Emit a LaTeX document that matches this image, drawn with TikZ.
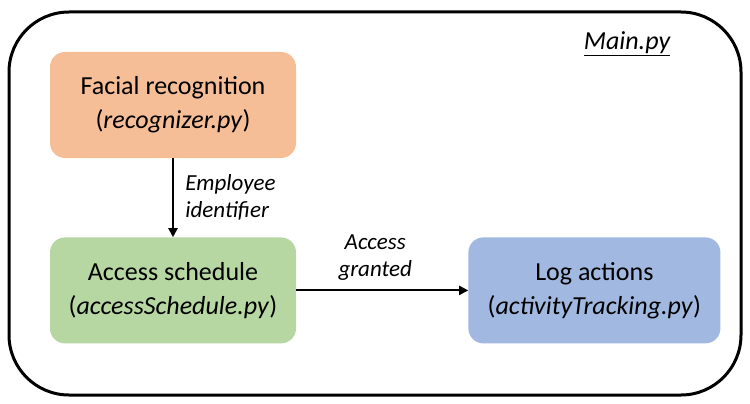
\documentclass[tikz,border=0pt]{standalone}
\usepackage{fontspec}
\setmainfont{Carlito}
\usetikzlibrary{positioning, arrows.meta}

\definecolor{faceorange}{HTML}{F5BE96}
\definecolor{schedgreen}{HTML}{B6D7A2}
\definecolor{logblue}{HTML}{A1B8E1}

\begin{document}
\begin{tikzpicture}[x=1pt, y=-1pt]
	% ----- Styles -----
	\tikzset{
		module/.style={
			rectangle, rounded corners=15pt, draw=none,
			minimum width=246pt, minimum height=106pt,
			align=center, font=\fontsize{26}{34}\selectfont
		},
		face/.style={module, fill=faceorange},
		sched/.style={module, fill=schedgreen},
		logger/.style={module, fill=logblue, minimum width=252pt},
		flowlabel/.style={align=left, font=\fontsize{23}{27}\selectfont\itshape},
		arrow/.style={line width=2pt, -{Triangle[length=9pt, width=9pt]}}
	}
	\useasboundingbox (0,0) rectangle (750,404);
	% ----- Frame -----
	\draw[line width=3pt, rounded corners=60pt] (9,12) rectangle (741,395);
	\node (main) [font=\fontsize{26}{30}\selectfont\itshape, anchor=base] at (627,50) {\underline{Main.py}};
	% ----- Nodes -----
	\node (recog) [face] at (173,105) {Facial recognition\\(\textit{recognizer.py})};
	\node (access) [sched, below=79pt of recog] {Access schedule\\(\textit{accessSchedule.py})};
	\node (log) [logger, right=172pt of access] {Log actions\\(\textit{activityTracking.py})};
	% ----- Arrows -----
	\draw[arrow] (recog) -- node[flowlabel, right=8pt] {Employee\\identifier} (access);
	\draw[arrow] (access) -- node[flowlabel, above=6pt, xshift=-7pt, align=center] {Access\\granted} (log);
\end{tikzpicture}
\end{document}
